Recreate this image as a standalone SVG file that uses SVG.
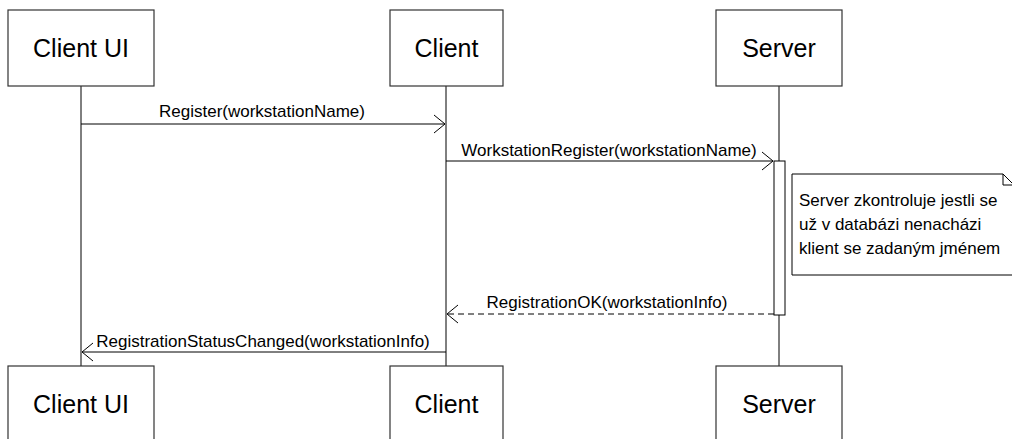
<svg xmlns="http://www.w3.org/2000/svg" width="1012" height="439" viewBox="0 0 1012 439">
  <style>
    .box { fill: #ffffff; stroke: #333333; stroke-width: 1.2; }
    .box-label { font-family: "Liberation Sans", Arial, sans-serif; font-size: 25px; fill: #000000; text-anchor: middle; }
    .lifeline { stroke: #000000; stroke-width: 1; fill: none; }
    .msg { stroke: #000000; stroke-width: 1; fill: none; }
    .reply { stroke: #000000; stroke-width: 1; fill: none; stroke-dasharray: 6 4; }
    .msg-label { font-family: "Liberation Sans", Arial, sans-serif; font-size: 17px; fill: #000000; text-anchor: middle; }
    .note { fill: #ffffff; stroke: #000000; stroke-width: 1; }
    .note-text { font-family: "Liberation Sans", Arial, sans-serif; font-size: 17px; fill: #000000; }
    .activation { fill: #ffffff; stroke: #000000; stroke-width: 1; }
  </style>
  <defs>
    <marker id="open-arrow" viewBox="-12 -11 14 22" refX="0" refY="0" markerWidth="14" markerHeight="22" markerUnits="userSpaceOnUse" orient="auto">
      <path d="M -11 -9 L 0 0 L -11 9" fill="none" stroke="#000000" stroke-width="1"/>
    </marker>
  </defs>

  <rect width="1012" height="439" fill="#ffffff"/>

  <!-- lifelines -->
  <g id="lifelines">
    <line class="lifeline" x1="81" y1="86" x2="81" y2="366"/>
    <line class="lifeline" x1="446" y1="86" x2="446" y2="366"/>
    <line class="lifeline" x1="779" y1="86" x2="779" y2="366"/>
  </g>

  <!-- participants (top) -->
  <g id="client-ui-top">
    <rect class="box" x="8" y="10" width="146" height="76"/>
    <text class="box-label" x="81" y="57">Client UI</text>
  </g>
  <g id="client-top">
    <rect class="box" x="390" y="10" width="113" height="76"/>
    <text class="box-label" x="446.5" y="57">Client</text>
  </g>
  <g id="server-top">
    <rect class="box" x="716" y="10" width="126" height="76"/>
    <text class="box-label" x="779" y="57">Server</text>
  </g>

  <!-- server activation -->
  <g id="server-activation">
    <rect class="activation" x="774" y="161" width="11" height="154"/>
  </g>

  <!-- note -->
  <g id="note">
    <path class="note" d="M 792 174 L 1003 174 L 1014 185 L 1014 275 L 792 275 Z"/>
    <path d="M 1003 174 L 1003 185 L 1014 185" fill="none" stroke="#000000" stroke-width="1"/>
    <text class="note-text" x="799" y="206">Server zkontroluje jestli se</text>
    <text class="note-text" x="799" y="230">už v databázi nenacházi</text>
    <text class="note-text" x="799" y="254">klient se zadaným jménem</text>
  </g>

  <!-- messages -->
  <g id="connectors">
    <line class="msg" x1="81" y1="124" x2="445" y2="124" marker-end="url(#open-arrow)"/>
    <text class="msg-label" x="262" y="117">Register(workstationName)</text>

    <line class="msg" x1="446" y1="161" x2="773" y2="161" marker-end="url(#open-arrow)"/>
    <text class="msg-label" x="609" y="156">WorkstationRegister(workstationName)</text>

    <line class="reply" x1="774" y1="314" x2="447" y2="314" marker-end="url(#open-arrow)"/>
    <text class="msg-label" x="607" y="308">RegistrationOK(workstationInfo)</text>

    <line class="msg" x1="446" y1="352" x2="82" y2="352" marker-end="url(#open-arrow)"/>
    <text class="msg-label" x="263" y="347">RegistrationStatusChanged(workstationInfo)</text>
  </g>

  <!-- participants (bottom) -->
  <g id="client-ui-bottom">
    <rect class="box" x="8" y="366" width="146" height="80"/>
    <text class="box-label" x="81" y="413">Client UI</text>
  </g>
  <g id="client-bottom">
    <rect class="box" x="390" y="366" width="113" height="80"/>
    <text class="box-label" x="446.5" y="413">Client</text>
  </g>
  <g id="server-bottom">
    <rect class="box" x="716" y="366" width="126" height="80"/>
    <text class="box-label" x="779" y="413">Server</text>
  </g>
</svg>
